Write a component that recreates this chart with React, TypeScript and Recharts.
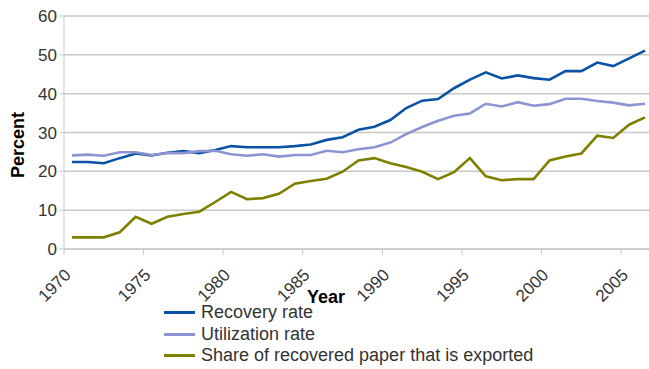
import { CartesianGrid, Line, LineChart, XAxis, YAxis } from "recharts";

const years = [
  1970, 1971, 1972, 1973, 1974, 1975, 1976, 1977, 1978, 1979, 1980, 1981, 1982,
  1983, 1984, 1985, 1986, 1987, 1988, 1989, 1990, 1991, 1992, 1993, 1994, 1995,
  1996, 1997, 1998, 1999, 2000, 2001, 2002, 2003, 2004, 2005, 2006,
];

const recoveryRate = [
  22.4, 22.4, 22.1, 23.4, 24.6, 24.1, 24.8, 25.2, 24.7, 25.5, 26.5, 26.2, 26.2,
  26.2, 26.5, 26.9, 28.1, 28.8, 30.7, 31.5, 33.2, 36.3, 38.2, 38.6, 41.4, 43.6,
  45.5, 43.9, 44.7, 44.0, 43.6, 45.8, 45.8, 48.0, 47.1, 49.1, 51.1,
];

const utilizationRate = [
  24.1, 24.3, 24.0, 24.9, 24.9, 24.2, 24.7, 24.7, 25.2, 25.3, 24.4, 24.0, 24.4,
  23.8, 24.2, 24.2, 25.3, 24.9, 25.7, 26.2, 27.4, 29.6, 31.4, 33.0, 34.3, 34.9,
  37.4, 36.7, 37.8, 36.9, 37.3, 38.7, 38.7, 38.1, 37.7, 37.0, 37.4,
];

const exportedShare = [
  3.0, 3.0, 3.0, 4.3, 8.3, 6.5, 8.3, 9.0, 9.6, 12.1, 14.7, 12.8, 13.1, 14.2,
  16.8, 17.5, 18.1, 19.9, 22.8, 23.4, 22.1, 21.1, 19.9, 18.0, 19.8, 23.4, 18.7,
  17.7, 18.0, 18.0, 22.8, 23.8, 24.6, 29.2, 28.6, 32.0, 33.9,
];

const xTicks = [1970, 1975, 1980, 1985, 1990, 1995, 2000, 2005];
const yTicks = [0, 10, 20, 30, 40, 50, 60];

const series = [
  { key: "recovery", name: "Recovery rate", color: "#0a52a5" },
  { key: "utilization", name: "Utilization rate", color: "#8b95d3" },
  { key: "exported", name: "Share of recovered paper that is exported", color: "#7f7f00" },
];

// each annual value sits in the middle of its year
const data = years.map((y, i) => ({
  x: y + 0.5,
  recovery: recoveryRate[i],
  utilization: utilizationRate[i],
  exported: exportedShare[i],
}));

const font = "'Liberation Sans', Arial, sans-serif";
const gridColor = "#c8c8c8";

function YearTick({ x, y, payload }: any) {
  const ax = x + 8;
  const ay = y + 19;
  return (
    <text
      x={ax}
      y={ay}
      transform={`rotate(-45 ${ax} ${ay})`}
      textAnchor="end"
      fontSize={17}
      fill="#333"
      fontFamily={font}
    >
      {payload.value}
    </text>
  );
}

function LegendBox() {
  return (
    <div
      style={{
        position: "absolute",
        left: 164,
        top: 302,
        fontFamily: font,
        fontSize: 18,
        color: "#333",
      }}
    >
      {series.map((s) => (
        <div key={s.key} style={{ display: "flex", alignItems: "center", height: 21.5 }}>
          <span
            style={{ display: "inline-block", width: 31, height: 3, background: s.color, marginRight: 6 }}
          />
          {s.name}
        </div>
      ))}
    </div>
  );
}

export default function App() {
  return (
    <div style={{ position: "absolute", left: 0, top: 0, width: 649, height: 369, background: "#fff" }}>
      <LineChart width={649} height={369} data={data} margin={{ top: 16, right: 0, bottom: 70, left: 0 }}>
        <CartesianGrid stroke={gridColor} strokeWidth={1.5} vertical={false} />
        <XAxis
          dataKey="x"
          type="number"
          domain={[1970, 2006.75]}
          ticks={xTicks}
          interval={0}
          height={50}
          stroke={gridColor}
          tickSize={6}
          tick={<YearTick />}
          label={{
            content: () => (
              <text x={326} y={303} textAnchor="middle" fontSize={18} fontWeight="bold" fontFamily={font} fill="#000">
                Year
              </text>
            ),
          }}
        />
        <YAxis
          domain={[0, 60]}
          ticks={yTicks}
          width={64}
          stroke={gridColor}
          tickSize={5}
          tick={{ fontSize: 17, fill: "#333", fontFamily: font }}
          label={{
            content: () => (
              <text
                x={24}
                y={145}
                transform="rotate(-90 24 145)"
                textAnchor="middle"
                fontSize={18}
                fontWeight="bold"
                fontFamily={font}
                fill="#000"
              >
                Percent
              </text>
            ),
          }}
        />
        {series.map((s) => (
          <Line
            key={s.key}
            dataKey={s.key}
            name={s.name}
            stroke={s.color}
            strokeWidth={2.6}
            dot={false}
            type="linear"
            isAnimationActive={false}
          />
        ))}
      </LineChart>
      <LegendBox />
    </div>
  );
}
